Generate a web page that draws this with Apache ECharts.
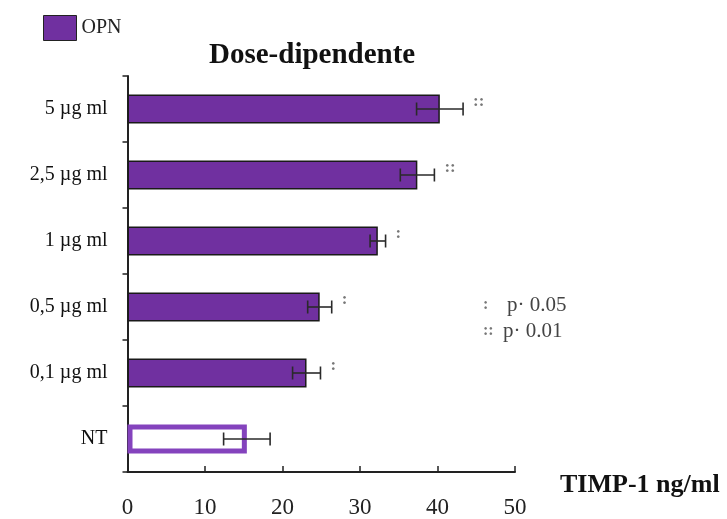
<!DOCTYPE html>
<html>
<head>
<meta charset="utf-8">
<script src="https://cdn.jsdelivr.net/npm/echarts@6/dist/echarts.min.js"></script>
<style>
html,body{margin:0;padding:0;background:#fff;}
#chart{width:727px;height:519px;}
</style>
</head>
<body>
<div id="chart"></div>
<script>
const categories = ['NT', '0,1 µg ml', '0,5 µg ml', '1 µg ml', '2,5 µg ml', '5 µg ml'];
const values = [15.4, 23.1, 24.8, 32.3, 37.4, 40.3];
const errors = [3.0, 1.8, 1.55, 1.0, 2.2, 3.0];
const significance = ['', ':', ':', ':', '::', '::'];
const seriesName = 'OPN';
const pLegend = [[':', 'p· 0.05'], ['::', 'p· 0.01']];
const xMin = 0, xMax = 50, xInterval = 10;

const serif = '"Liberation Serif", "DejaVu Serif", serif';
const chart = echarts.init(document.getElementById('chart'));

const barData = values.map(function (v, i) {
  if (i === 0) {
    return { value: v, itemStyle: { color: '#ffffff', borderColor: '#8443bd', borderWidth: 5 } };
  }
  return v;
});

const errData = values.map(function (v, i) {
  return [i, v - errors[i], v + errors[i]];
});

const graphics = [];
pLegend.forEach(function (row, i) {
  graphics.push({
    type: 'text', left: 483, top: 297 + i * 26,
    style: { text: row[0], font: 'bold 16px ' + serif, fill: '#777' }
  });
  graphics.push({
    type: 'text', left: 507 - i * 4, top: 295 + i * 26,
    style: { text: row[1], font: '21px ' + serif, fill: '#444' }
  });
});

chart.setOption({
  animation: false,
  backgroundColor: '#ffffff',
  title: {
    text: 'Dose-dipendente',
    left: 204, top: 36,
    textStyle: { fontFamily: serif, fontWeight: 'bold', fontSize: 29, color: '#111' }
  },
  legend: {
    data: [seriesName],
    left: 38, top: 10,
    itemWidth: 33, itemHeight: 25,
    icon: 'rect',
    itemStyle: { borderColor: '#222', borderWidth: 1 },
    textStyle: { fontFamily: serif, fontSize: 20, color: '#222' }
  },
  grid: { left: 127.5, right: 212, top: 76, bottom: 44, containLabel: false },
  xAxis: {
    type: 'value',
    min: xMin, max: xMax, interval: xInterval,
    name: 'TIMP-1 ng/ml',
    nameLocation: 'end',
    nameGap: 45,
    nameTextStyle: { fontFamily: serif, fontWeight: 'bold', fontSize: 26, color: '#111', verticalAlign: 'top', align: 'left' },
    axisLine: { show: true, lineStyle: { color: '#222', width: 2 } },
    axisTick: { show: true, inside: true, length: 6, lineStyle: { color: '#222', width: 1.5 } },
    axisLabel: { margin: 24, fontFamily: serif, fontSize: 23, color: '#222' },
    splitLine: { show: false }
  },
  yAxis: {
    type: 'category',
    data: categories,
    axisLine: { show: true, lineStyle: { color: '#222', width: 2 } },
    axisTick: { show: true, length: 5, lineStyle: { color: '#222', width: 1.5 } },
    axisLabel: { margin: 20, fontFamily: serif, fontSize: 20, color: '#111' },
    splitLine: { show: false }
  },
  graphic: graphics,
  series: [
    {
      name: seriesName,
      type: 'bar',
      data: barData,
      barWidth: 29,
      itemStyle: { color: '#7030a0', borderColor: '#1a1a1a', borderWidth: 1.5 },
      z: 2
    },
    {
      name: 'err',
      type: 'custom',
      data: errData,
      encode: { x: [1, 2], y: 0 },
      z: 5,
      renderItem: function (params, api) {
        const cat = api.value(0);
        const lo = api.coord([api.value(1), cat]);
        const hi = api.coord([api.value(2), cat]);
        const h = 6.5;
        const ls = { stroke: '#2a2a2a', lineWidth: 1.6 };
        const children = [
          { type: 'line', shape: { x1: lo[0], y1: lo[1], x2: hi[0], y2: hi[1] }, style: ls },
          { type: 'line', shape: { x1: lo[0], y1: lo[1] - h, x2: lo[0], y2: lo[1] + h }, style: ls },
          { type: 'line', shape: { x1: hi[0], y1: hi[1] - h, x2: hi[0], y2: hi[1] + h }, style: ls }
        ];
        const s = significance[params.dataIndex];
        if (s) {
          children.push({
            type: 'text',
            style: {
              text: s, x: hi[0] + 10, y: hi[1] - 7,
              font: 'bold 17px ' + serif, fill: '#777',
              textAlign: 'left', textVerticalAlign: 'middle'
            }
          });
        }
        return { type: 'group', children: children };
      }
    }
  ]
});
</script>
</body>
</html>
